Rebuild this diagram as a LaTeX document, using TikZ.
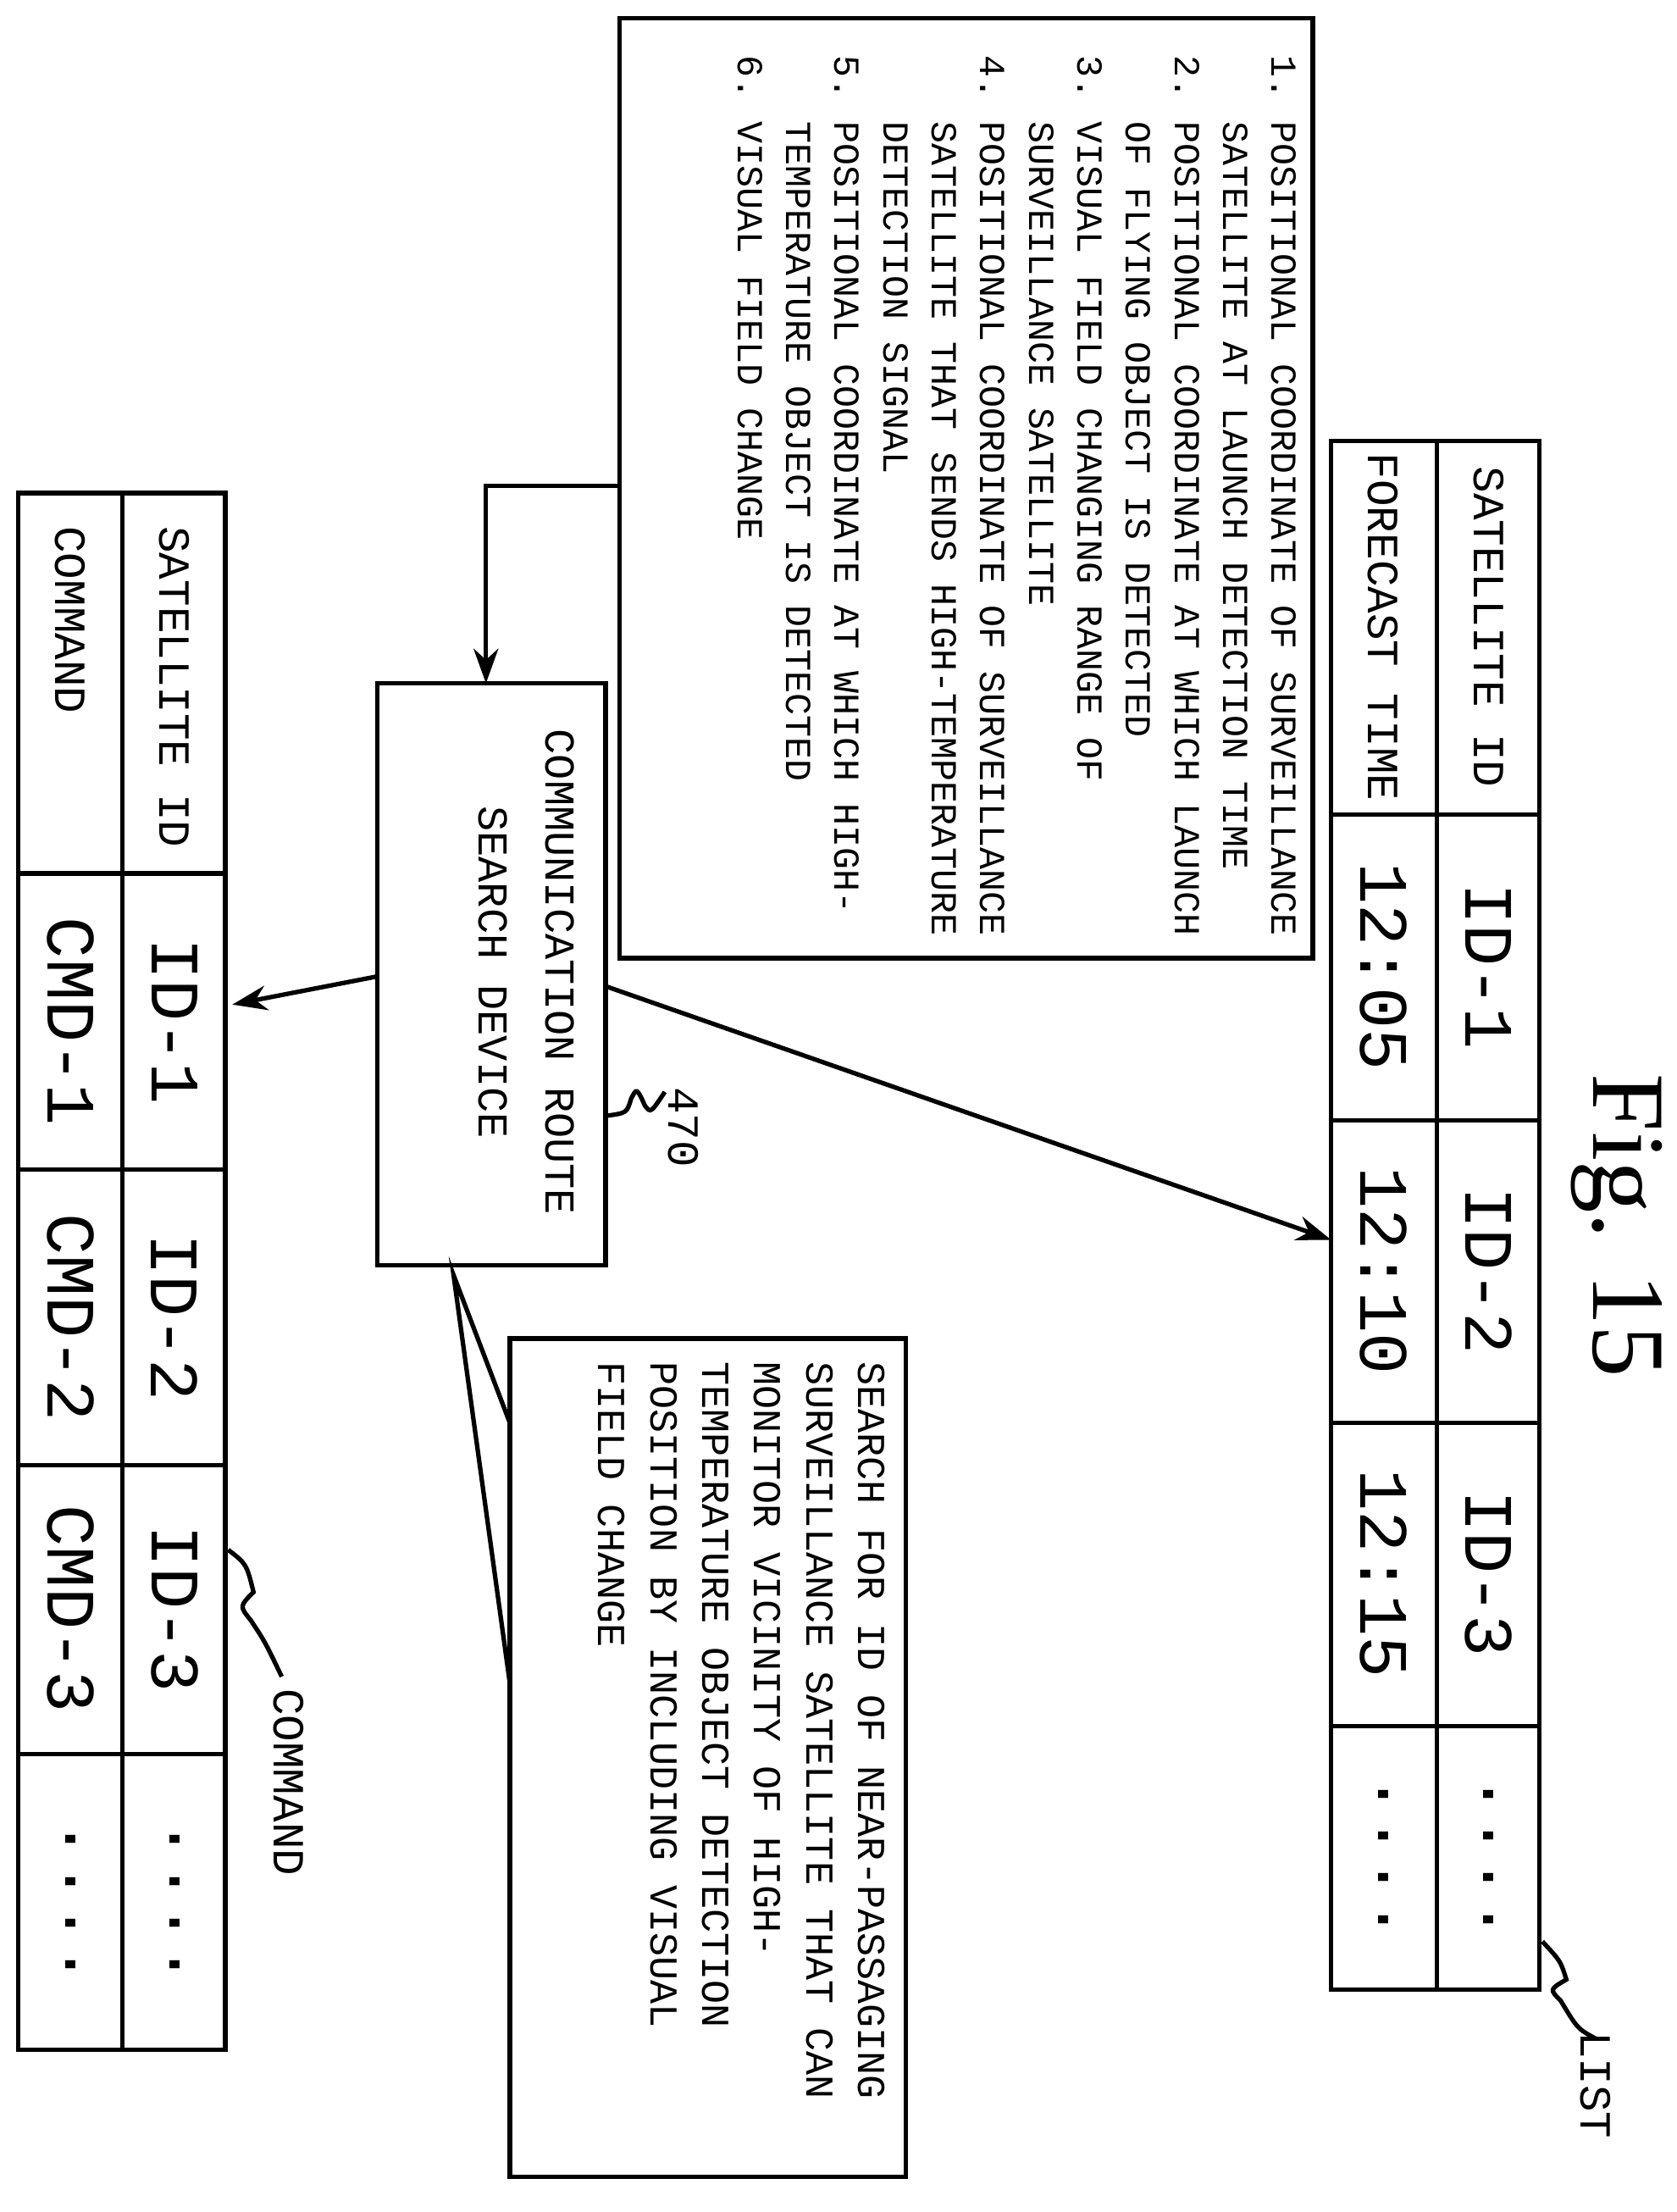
\documentclass[tikz,border=0pt]{standalone}
\usepackage{fontspec}
\setmainfont{Liberation Serif}
\setmonofont{Liberation Mono}
\usetikzlibrary{arrows.meta}
\begin{document}
\begin{tikzpicture}[x=0.01cm,y=-0.01cm,line width=0.9pt,
  txt/.style={rotate=-90,font=\ttfamily\fontsize{7.4}{9.8}\selectfont,inner sep=0pt,align=left},
  big/.style={rotate=-90,font=\ttfamily\fontsize{14}{14}\selectfont,inner sep=0pt},
  hd/.style={rotate=-90,font=\ttfamily\fontsize{9}{9}\selectfont,inner sep=0pt},
  arr/.style={-{Stealth[length=7pt,width=5pt]}}]
\useasboundingbox (0,0) rectangle (1190,1570);
\node[rotate=-90,font=\fontsize{21}{21}\selectfont] (fig) at (1148,870) {Fig. 15};
% LIST table
\draw (945,313) rectangle (1093,1412);
\draw (1020,313) -- (1020,1412);
\foreach \y in {578,795,1010,1225} \draw (945,\y) -- (1093,\y);
\node[hd] (lh1) at (1057,445) {SATELLITE ID};
\node[hd] (lh2) at (982,445) {FORECAST TIME};
\node[big] (l11) at (1057,686) {ID-1};
\node[big] (l21) at (982,686) {12:05};
\node[big] (l12) at (1057,902) {ID-2};
\node[big] (l22) at (982,902) {12:10};
\node[big] (l13) at (1057,1117) {ID-3};
\node[big] (l23) at (982,1117) {12:15};
\node[big] (l14) at (1057,1318) {....};
\node[big] (l24) at (982,1318) {....};
\coordinate (listc) at (945,880);
\node[hd] (listlbl) at (1133,1480) {LIST};
\draw (1095,1378) .. controls (1108,1392) .. (1112,1405) .. controls (1100,1412) .. (1108,1420) .. controls (1120,1440) .. (1133,1447);
% upper text box
\draw (440,13) rectangle (932,680);
\node[txt,anchor=north west] (up) at (922,38) {1. POSITIONAL COORDINATE OF SURVEILLANCE\\
\phantom{1. }SATELLITE AT LAUNCH DETECTION TIME\\
2. POSITIONAL COORDINATE AT WHICH LAUNCH\\
\phantom{1. }OF FLYING OBJECT IS DETECTED\\
3. VISUAL FIELD CHANGING RANGE OF\\
\phantom{1. }SURVEILLANCE SATELLITE\\
4. POSITIONAL COORDINATE OF SURVEILLANCE\\
\phantom{1. }SATELLITE THAT SENDS HIGH-TEMPERATURE\\
\phantom{1. }DETECTION SIGNAL\\
5. POSITIONAL COORDINATE AT WHICH HIGH-\\
\phantom{1. }TEMPERATURE OBJECT IS DETECTED\\
6. VISUAL FIELD CHANGE};
\coordinate (upl) at (440,345);
% middle box
\draw (268,485) rectangle (430,898);
\node[rotate=-90,font=\ttfamily\fontsize{8.6}{13.5}\selectfont,align=center,inner sep=0pt] (dev) at (374,690) {COMMUNICATION ROUTE\\SEARCH DEVICE};
\coordinate (devtop) at (345,485);
\draw[arr] (upl) -- (345,345) -- (devtop);
\draw[arr] (430,700) -- (listc);
\coordinate (cmdc) at (165,713);
\draw[arr] (268,693) -- (cmdc);
\node[hd] (n470) at (485,800) {470};
\draw (430,792) .. controls (445,790) .. (448,780) .. controls (452,772) .. (458,785) .. controls (462,790) .. (472,775);
% COMMAND table
\draw (13,350) rectangle (160,1455);
\draw (87,350) -- (87,1455);
\foreach \y in {620,830,1040,1245} \draw (13,\y) -- (160,\y);
\node[hd,anchor=west] (ch1) at (124,372) {SATELLITE ID};
\node[hd,anchor=west] (ch2) at (50,372) {COMMAND};
\node[big] (c11) at (124,725) {ID-1};
\node[big] (c21) at (50,725) {CMD-1};
\node[big] (c12) at (124,935) {ID-2};
\node[big] (c22) at (50,935) {CMD-2};
\node[big] (c13) at (124,1142) {ID-3};
\node[big] (c23) at (50,1142) {CMD-3};
\node[big] (c14) at (124,1350) {....};
\node[big] (c24) at (50,1350) {....};
\node[hd] (cmdlbl) at (205,1265) {COMMAND};
\draw (162,1100) .. controls (175,1110) .. (180,1130) .. controls (170,1140) .. (178,1150) .. controls (188,1165) .. (200,1190);
% lower text box
\draw (362,950) rectangle (643,1545);
\node[txt,anchor=north west,font=\ttfamily\fontsize{8}{10.5}\selectfont] (low) at (630,965) {SEARCH FOR ID OF NEAR-PASSAGING\\
SURVEILLANCE SATELLITE THAT CAN\\
MONITOR VICINITY OF HIGH-\\
TEMPERATURE OBJECT DETECTION\\
POSITION BY INCLUDING VISUAL\\
FIELD CHANGE};
\draw (362,1010) -- (322,905) -- (362,1195);
\end{tikzpicture}
\end{document}
